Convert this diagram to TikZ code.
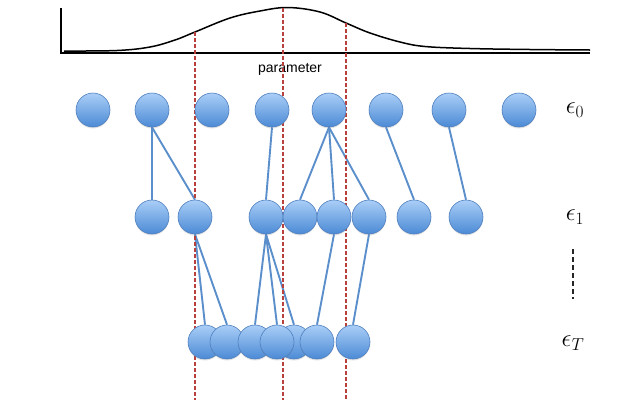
\documentclass[tikz,border=0pt]{standalone}
\usepackage{fontspec}
\newfontfamily\labelfont{Liberation Sans}
\usetikzlibrary{shadows,backgrounds}
\definecolor{ballTop}{HTML}{AACEF7}
\definecolor{ballBot}{HTML}{4B8AD5}
\definecolor{ballEdge}{HTML}{4F7FBF}
\definecolor{linkBlue}{HTML}{5B8FCB}
\definecolor{cutRed}{HTML}{B8413D}
\tikzset{
  ball/.style={circle, minimum size=34pt, inner sep=0pt, draw=ballEdge, line width=0.6pt,
    top color=ballTop, bottom color=ballBot,
    drop shadow={opacity=0.22, shadow xshift=0pt, shadow yshift=-1.5pt}},
  link/.style={draw=linkBlue, line width=1.9pt},
  cut/.style={draw=cutRed, line width=1.1pt, dash pattern=on 4pt off 2pt},
  axis/.style={draw=black, line width=1.6pt},
  density/.style={draw=black, line width=1.5pt},
  level/.style={font=\fontsize{27}{29}\selectfont},
  gap/.style={draw=black!85, line width=1.7pt, dash pattern=on 5pt off 3pt},
}
\begin{document}
\begin{tikzpicture}[x=1pt, y=-1pt]
\useasboundingbox (0,0) rectangle (640,400);

% axes and density curve
\coordinate (ytop) at (61,8);
\coordinate (orig) at (61,53);
\coordinate (xend) at (590,53);
\draw[axis] (ytop) -- (orig) -- (xend);
\draw[density] plot[smooth, tension=0.6] coordinates {
  (64,51) (117,50.5) (150,47) (175,40) (195,32) (230,18) (260,11) (288,7.5)
  (320,12) (346,23) (370,33) (400,42) (425,46.5) (470,48.5) (530,49.5) (590,50)};
\node[font=\labelfont\fontsize{14}{16}\selectfont] (plabel) at (290,69) {parameter};

% vertical cuts through the distribution
\coordinate (c1t) at (195,32);  \coordinate (c1b) at (195,400);
\coordinate (c2t) at (283,7.5); \coordinate (c2b) at (283,400);
\coordinate (c3t) at (346,23);  \coordinate (c3b) at (346,400);
\draw[cut] (c1t) -- (c1b);
\draw[cut] (c2t) -- (c2b);
\draw[cut] (c3t) -- (c3b);

% generation 0
\foreach \n/\x in {a1/93, a2/152, a3/212, a4/272, a5/329, a6/386, a7/449, a8/519}
  \node[ball] (\n) at (\x,110) {};
% generation 1
\foreach \n/\x in {b1/152, b2/195, b3/266, b4/300, b5/334, b6/369, b7/414, b8/466}
  \node[ball] (\n) at (\x,217) {};
% generation T (stacking order matters where they overlap)
\foreach \n/\x in {c1/205, c2/227, c3/255, c5/294, c6/317, c4/277, c7/353}
  \node[ball] (\n) at (\x,342) {};

% ancestry links, kept beneath the balls
\begin{pgfonlayer}{background}
\foreach \u/\v in {a2/b1, a2/b2, a4/b3, a5/b4, a5/b5, a5/b6, a6/b7, a7/b8,
                   b2/c1, b2/c2, b3/c3, b3/c4, b3/c5, b5/c6, b6/c7}
  \draw[link] (\u.south) -- (\v.north);
\end{pgfonlayer}

% level labels
\node[level] (e0) at (575,110) {$\epsilon_0$};
\node[level] (e1) at (575,217) {$\epsilon_1$};
\node[level] (eT) at (573,343) {$\epsilon_T$};
\coordinate (gtop) at (573,249);
\coordinate (gbot) at (573,299);
\draw[gap] (gtop) -- (gbot);
\end{tikzpicture}
\end{document}
